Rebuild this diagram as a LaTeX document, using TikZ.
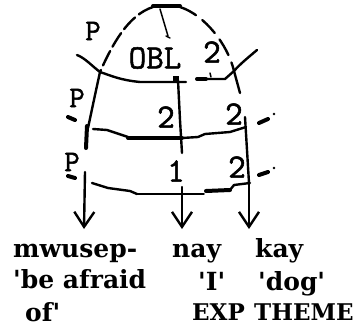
\documentclass[tikz,border=0pt]{standalone}
\usepackage{fontspec}
\usetikzlibrary{arrows.meta}
\newfontfamily\labfont{Latin Modern Mono}[FakeBold=1.6]
\newfontfamily\wordfont{DejaVu Serif}
\begin{document}
\begin{tikzpicture}[x=1pt,y=-1pt, line cap=round, line join=round,
  ln/.style={line width=2.4pt},
  thk/.style={line width=4pt},
  thin/.style={line width=1.5pt},
  arr/.style={ln,-{Straight Barb[length=15pt,width=20pt,line width=2.4pt]}},
  lab/.style={font=\labfont\fontsize{34}{34}\selectfont, inner sep=0},
  labp/.style={font=\labfont\fontsize{30}{30}\selectfont, inner sep=0},
  word/.style={font=\wordfont\bfseries\fontsize{25}{25}\selectfont, inner sep=0, anchor=base west},
  wordc/.style={font=\wordfont\bfseries\fontsize{23}{23}\selectfont, inner sep=0, anchor=base west}]
\useasboundingbox (0,0) rectangle (357,333);
% key crossing points
\coordinate (L1) at (100,72);
\coordinate (R1) at (234,71);
% dome
\draw[thk] (153,6) -- (180,6);
\draw[ln, dash pattern=on 16pt off 5pt] (153,7) .. controls (128,15) and (112,45) .. (L1);
\draw[ln, dash pattern=on 18pt off 8pt] (180,7) .. controls (205,15) and (228,45) .. (R1);
\draw[thin] (160,9) -- (168,36);
\draw[thin] (166,36) -- (170,38);
% outer ticks
\draw[ln] (77,55) .. controls (85,58) and (92,66) .. (L1);
\draw[ln] (257,50) .. controls (250,56) and (240,64) .. (R1);
% left arc
\draw[ln] (L1) .. controls (95,95) .. (88,128);
\draw[thk] (87,126) -- (86,148);
\draw[arr] (85,172) -- (84,229);
% right arc
\draw[ln] (R1) -- (240,93);
\draw[ln] (245,117) -- (247,150) -- (249,183);
\draw[arr] (249,183) -- (249,229);
% middle arc
\fill (173,76) rectangle (179,83);
\draw[ln] (178,80) -- (180,120) -- (182,153);
\draw[arr] (182,187) -- (182,229);
% stratum line 1
\draw[ln] (L1) .. controls (112,76) and (120,80) .. (140,82) -- (186,82);
\draw[ln] (198,79) -- (225,79) -- (R1);
\draw[thk] (197,79) -- (206,79);
\draw[thin] (210,73) -- (211,77);
% stratum line 2
\draw[ln] (93,129) -- (107,130) -- (128,137);
\draw[thk] (128,138) -- (182,138);
\draw[ln] (182,138) -- (198,137) -- (205,134) -- (230,132) -- (246,127);
% stratum line 3
\draw[ln] (92,183) -- (108,188) -- (130,191) -- (137,194);
\draw[thin] (137,194) -- (204,194);
\draw[thk] (206,191) -- (230,190);
\draw[ln] (230,190) -- (234,185) -- (250,183);
% small marks
\draw[thk] (68,117) -- (75,120);
\draw[thk] (259,123) -- (268,119);
\fill (274,114) circle (1.3);
\draw[thk] (259,175) -- (268,172);
\fill (274,168) circle (1.3);
\draw[thk] (68,176) -- (75,178);
% labels
\node[labp] (p1) at (93,31) {P};
\node[lab] (obl) at (155,58) {OBL};
\node[lab] (t2a) at (212,52) {2};
\node[labp] (p2) at (77,98) {P};
\node[lab] (m2) at (166,117) {2};
\node[lab] (r2) at (234,114) {2};
\node[labp] (p3) at (72,162) {P};
\node[lab] (m1) at (176,171) {1};
\node[lab] (r3) at (237,167) {2};
% words
\node[word] (w1) at (13,257) {mwusep-};
\node[word] (w2) at (172,257) {nay};
\node[word] (w3) at (255,257) {kay};
\node[word] (g1) at (13,288) {'be afraid};
\node[word] (g2) at (198,290) {'I'};
\node[word] (g3) at (258,290) {'dog'};
\node[word] (g4) at (25,321) {of'};
\node[wordc] (r1) at (192,320) {EXP};
\node[wordc] (r2w) at (254,320) {THEME};
\end{tikzpicture}
\end{document}
